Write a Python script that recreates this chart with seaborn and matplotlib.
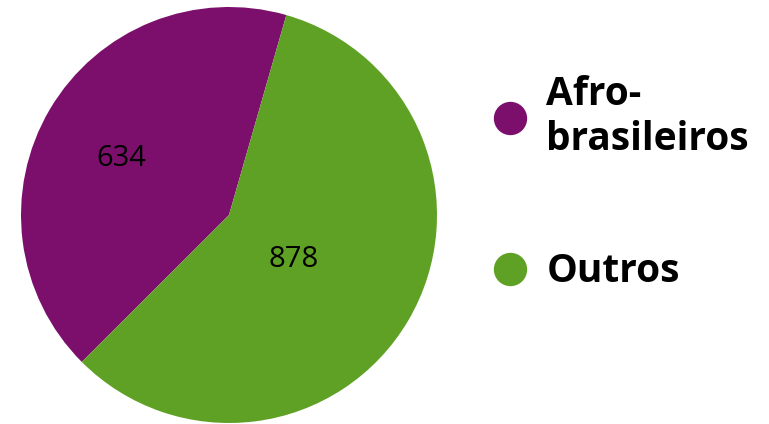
import numpy as np
import matplotlib
matplotlib.use("Agg")
import matplotlib.pyplot as plt
from matplotlib.lines import Line2D
import seaborn as sns

# Dados
categories = ["Afro-\nbrasileiros", "Outros"]
values = [634, 878]
colors = ["#7b0f6b", "#5fa124"]

sns.set_theme(style="white")
plt.rcParams["font.family"] = ["Open Sans", "DejaVu Sans"]

fig = plt.figure(figsize=(7.69, 4.24), dpi=100)
ax = fig.add_axes([20 / 769, 1 / 424, 418 / 769, 416 / 424])

wedges, _ = ax.pie(
    values,
    colors=colors,
    startangle=74,
    counterclock=True,
    radius=1,
    wedgeprops=dict(linewidth=0),
)
ax.set_xlim(-1, 1)
ax.set_ylim(-1, 1)
ax.set_aspect("equal")
ax.axis("off")

# Rótulos com os valores dentro das fatias
label_dist = [0.6, 0.36]
for w, v, d in zip(wedges, values, label_dist):
    ang = np.deg2rad((w.theta1 + w.theta2) / 2)
    ax.annotate(str(v), (d * np.cos(ang), d * np.sin(ang)),
                xytext=(0, -5), textcoords="offset points",
                ha="center", va="center", fontsize=21, color="black")

# Legenda
handles = [
    Line2D([], [], marker="o", linestyle="", markersize=24,
           markerfacecolor=c, markeredgewidth=0)
    for c in colors
]
leg = fig.legend(
    handles, categories,
    loc="upper left",
    bbox_to_anchor=(492 / 769, 1 - 75 / 424),
    frameon=False,
    prop=dict(family="Open Sans", weight="bold", size=28),
    labelspacing=2.4,
    handletextpad=0.5,
    handlelength=0.9,
    borderpad=0,
    borderaxespad=0,
)
for t in leg.get_texts():
    t.set_color("black")

fig.savefig("out.png", dpi=100)
plt.close(fig)
